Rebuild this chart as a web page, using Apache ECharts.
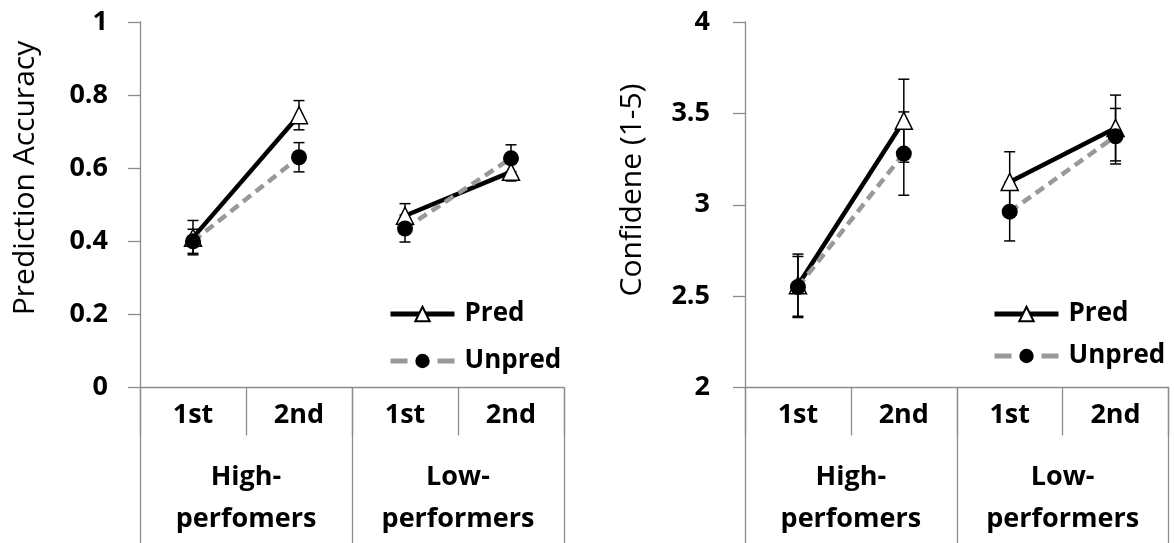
<!DOCTYPE html>
<html>
<head>
<meta charset="utf-8">
<script src="https://cdn.jsdelivr.net/npm/echarts@6/dist/echarts.min.js"></script>
<style>
  html, body { margin: 0; padding: 0; background: #fff; }
  #chart { width: 1174px; height: 543px; }
</style>
</head>
<body>
<div id="chart"></div>
<script>
// ---- data ----
const categories = ['1st', '2nd', '1st', '2nd'];
const groups = ['High-\nperfomers', 'Low-\nperformers'];
const seriesNames = ['Pred', 'Unpred'];

const accTicks = { min: 0, max: 1, interval: 0.2 };
const predAcc = [0.41, 0.745, 0.47, 0.59];
const predAccErr = [0.047, 0.04, 0.033, 0.025];
const unpredAcc = [0.40, 0.63, 0.435, 0.627];
const unpredAccErr = [0.033, 0.04, 0.037, 0.037];

const confTicks = { min: 2, max: 4, interval: 0.5 };
const predConf = [2.56, 3.46, 3.125, 3.42];
const predConfErr = [0.17, 0.227, 0.165, 0.18];
const unpredConf = [2.55, 3.28, 2.962, 3.375];
const unpredConfErr = [0.167, 0.228, 0.16, 0.152];

const yTitles = ['Prediction Accuracy', 'Confidene (1-5)'];

// ---- style ----
const FONT = '"Open Sans", "Liberation Sans", sans-serif';
const AXIS_COLOR = '#8c8c8c';
const styles = {
  Pred: {
    line: { color: '#000', width: 4.5, type: 'solid' },
    symbol: 'triangle', symbolSize: 17,
    item: { color: '#fff', borderColor: '#000', borderWidth: 1.5 }
  },
  Unpred: {
    line: { color: '#999999', width: 4.5, type: [10, 6] },
    symbol: 'circle', symbolSize: 16,
    item: { color: '#000', borderColor: '#000', borderWidth: 0 }
  }
};

function seg(arr, from, to) {
  return arr.map((v, i) => (i >= from && i <= to ? v : '-'));
}

function errSeries(name, vals, errs, g) {
  return {
    type: 'custom',
    name: name + ' SE',
    xAxisIndex: 2 * g,
    yAxisIndex: g,
    z: 2,
    silent: true,
    data: vals.map((v, i) => [i, v, errs[i]]),
    encode: { x: 0, y: 1 },
    renderItem: function (params, api) {
      const i = api.value(0), v = api.value(1), e = api.value(2);
      const top = api.coord([i, v + e]);
      const bot = api.coord([i, v - e]);
      const cap = 5.5;
      const ls = { stroke: '#000', lineWidth: 1.5 };
      return {
        type: 'group',
        children: [
          { type: 'line', shape: { x1: top[0], y1: top[1], x2: bot[0], y2: bot[1] }, style: ls },
          { type: 'line', shape: { x1: top[0] - cap, y1: top[1], x2: top[0] + cap, y2: top[1] }, style: ls },
          { type: 'line', shape: { x1: bot[0] - cap, y1: bot[1], x2: bot[0] + cap, y2: bot[1] }, style: ls }
        ]
      };
    }
  };
}

function lineSeries(name, vals, g, from, to) {
  const s = styles[name];
  return {
    type: 'line',
    name: name,
    xAxisIndex: 2 * g,
    yAxisIndex: g,
    z: 3,
    data: seg(vals, from, to),
    symbol: s.symbol,
    symbolSize: s.symbolSize,
    showAllSymbol: true,
    connectNulls: false,
    lineStyle: s.line,
    itemStyle: s.item
  };
}

const grids = [
  { left: 140, top: 22, width: 424, height: 365.5 },
  { left: 745, top: 22, width: 423.5, height: 365.5 }
];

const xAxes = [];
const yAxes = [];
const ySpecs = [accTicks, confTicks];
const yMargins = [32, 35];
for (let g = 0; g < 2; g++) {
  xAxes.push({
    type: 'category', gridIndex: g, data: categories, position: 'bottom',
    axisLine: { show: true, lineStyle: { color: AXIS_COLOR, width: 1.3 } },
    axisTick: { show: true, interval: 0, length: 48, lineStyle: { color: AXIS_COLOR, width: 1.3 } },
    axisLabel: { interval: 0, margin: 13, color: '#000', fontFamily: FONT, fontWeight: 'bold', fontSize: 27, lineHeight: 30 }
  });
  xAxes.push({
    type: 'category', gridIndex: g, data: groups, position: 'bottom',
    axisLine: { show: false },
    axisTick: { show: true, interval: 0, length: 160, lineStyle: { color: AXIS_COLOR, width: 1.3 } },
    axisLabel: { interval: 0, margin: 69, color: '#000', fontFamily: FONT, fontWeight: 'bold', fontSize: 27, lineHeight: 42 }
  });
  yAxes.push({
    type: 'value', gridIndex: g,
    min: ySpecs[g].min, max: ySpecs[g].max, interval: ySpecs[g].interval,
    axisLine: { show: true, lineStyle: { color: AXIS_COLOR, width: 1.3 } },
    axisTick: { show: true, length: 12, lineStyle: { color: AXIS_COLOR, width: 1.3 } },
    splitLine: { show: false },
    axisLabel: { margin: yMargins[g], color: '#000', fontFamily: FONT, fontWeight: 'bold', fontSize: 27 }
  });
}

const series = [];
const chartData = [
  { pred: predAcc, predErr: predAccErr, unpred: unpredAcc, unpredErr: unpredAccErr },
  { pred: predConf, predErr: predConfErr, unpred: unpredConf, unpredErr: unpredConfErr }
];
chartData.forEach((d, g) => {
  series.push(errSeries('Pred', d.pred, d.predErr, g));
  series.push(lineSeries('Pred', d.pred, g, 0, 1));
  series.push(lineSeries('Pred', d.pred, g, 2, 3));
  series.push(errSeries('Unpred', d.unpred, d.unpredErr, g));
  series.push(lineSeries('Unpred', d.unpred, g, 0, 1));
  series.push(lineSeries('Unpred', d.unpred, g, 2, 3));
});

const legendBase = {
  orient: 'vertical',
  data: [
    { name: seriesNames[0] },
    { name: seriesNames[1], lineStyle: { type: [17, 30] } }
  ],
  itemWidth: 64,
  itemHeight: 18,
  padding: 0,
  selectedMode: false,
  lineStyle: { width: 5 },
  textStyle: { color: '#000', fontFamily: FONT, fontWeight: 'bold', fontSize: 26, lineHeight: 30, padding: [0, 0, 0, 5] }
};

const option = {
  animation: false,
  backgroundColor: '#fff',
  grid: grids,
  xAxis: xAxes,
  yAxis: yAxes,
  legend: [
    Object.assign({}, legendBase, { left: 388, top: 299, itemGap: 17 }),
    Object.assign({}, legendBase, { left: 992, top: 299, itemGap: 12 })
  ],
  graphic: [
    { type: 'text', x: 25, y: 178, rotation: Math.PI / 2,
      style: { text: yTitles[0], font: '30px ' + FONT, fill: '#000', textAlign: 'center', textVerticalAlign: 'middle' } },
    { type: 'text', x: 632, y: 190, rotation: Math.PI / 2,
      style: { text: yTitles[1], font: '30px ' + FONT, fill: '#000', textAlign: 'center', textVerticalAlign: 'middle' } }
  ],
  series: series
};

const chart = echarts.init(document.getElementById('chart'), null, { renderer: 'canvas' });
chart.setOption(option);
</script>
</body>
</html>
